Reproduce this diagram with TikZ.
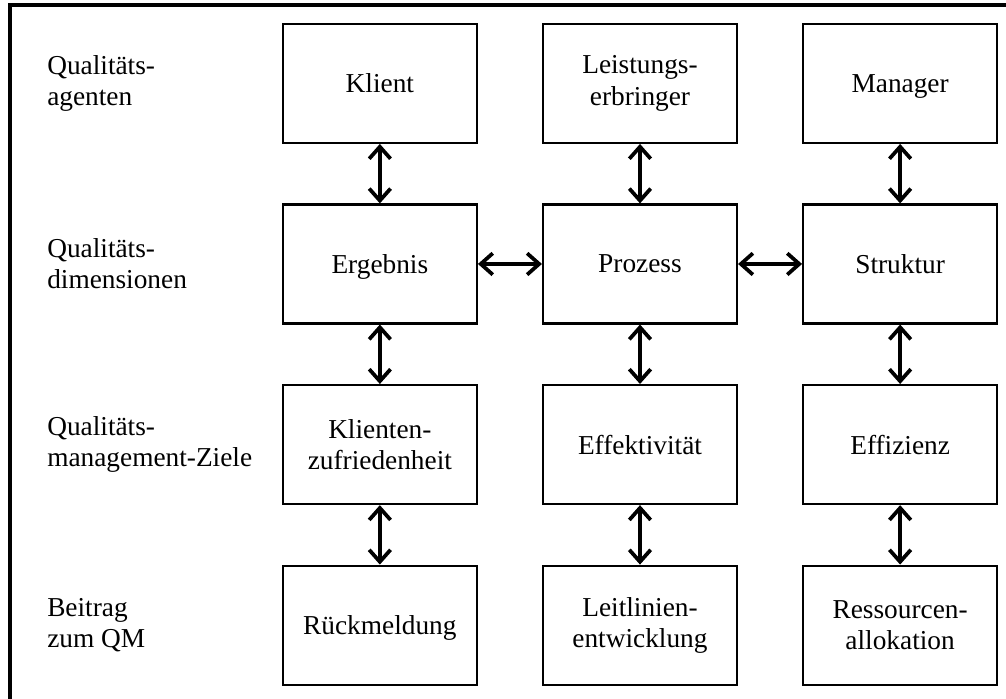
\documentclass[tikz,border=0pt]{standalone}
\usepackage{fontspec}
\setmainfont{Liberation Serif}
\usetikzlibrary{matrix,
	calc,
	positioning,
	arrows.meta}
\tikzstyle{bx}=[draw, line width=1.6pt, minimum width=145.5pt, minimum height=89.25pt,
		inner sep=2pt, align=center, font=\fontsize{20.5}{23.5}\selectfont]
\tikzstyle{nd}=[text depth=0pt]
\tikzstyle{lb}=[anchor=west, align=left, inner sep=0pt, font=\fontsize{20.5}{23.5}\selectfont]
\tikzstyle{grd}=[column sep=48pt, row sep=44.6pt, ampersand replacement=\&]
\tikzstyle{dbl}=[line width=2.8pt, {Straight Barb[length=9pt, width=16pt]}-{Straight Barb[length=9pt, width=16pt]}]

\begin{document}
\begin{tikzpicture}
	\clip (0,0) rectangle (754.5pt,-524.25pt);
	\useasboundingbox (0,0) rectangle (754.5pt,-524.25pt);
	% outer frame
	\draw[line width=3pt] (7.5pt,-3.75pt) rectangle (760pt,-530pt);
	\matrix (qm) [grd] at (480pt,-265.7pt) {
		\node[bx] (klient) {Klient}; \& \node[bx] (erbringer) {Leistungs-\\erbringer}; \& \node[bx, nd] (manager) {Manager}; \\
		\node[bx, nd] (ergebnis) {Ergebnis}; \& \node[bx] (prozess) {Prozess}; \& \node[bx] (struktur) {Struktur}; \\
		\node[bx] (zufrieden) {Klienten-\\zufriedenheit}; \& \node[bx] (effektiv) {Effektivit\"at}; \& \node[bx] (effizienz) {Effizienz}; \\
		\node[bx, nd] (rueck) {R\"uckmeldung}; \& \node[bx] (leitlinien) {Leitlinien-\\entwicklung}; \& \node[bx] (ressourcen) {Ressourcen-\\allokation}; \\
	};
	% row labels
	\coordinate (lx) at (35.25pt,0);
	\node[lb] (agenten) at (lx |- klient) {Qualit\"ats-\\agenten};
	\node[lb] (dimensionen) at (lx |- ergebnis) {Qualit\"ats-\\dimensionen};
	\node[lb] (ziele) at (lx |- zufrieden) {Qualit\"ats-\\management-Ziele};
	\node[lb] (beitrag) at (lx |- rueck) {Beitrag\\zum QM};
	% connectors
	\draw[dbl] (klient) -- (ergebnis);
	\draw[dbl] (erbringer) -- (prozess);
	\draw[dbl] (manager) -- (struktur);
	\draw[dbl] (ergebnis) -- (prozess);
	\draw[dbl] (prozess) -- (struktur);
	\draw[dbl] (ergebnis) -- (zufrieden);
	\draw[dbl] (prozess) -- (effektiv);
	\draw[dbl] (struktur) -- (effizienz);
	\draw[dbl] (zufrieden) -- (rueck);
	\draw[dbl] (effektiv) -- (leitlinien);
	\draw[dbl] (effizienz) -- (ressourcen);
\end{tikzpicture}
\end{document}
